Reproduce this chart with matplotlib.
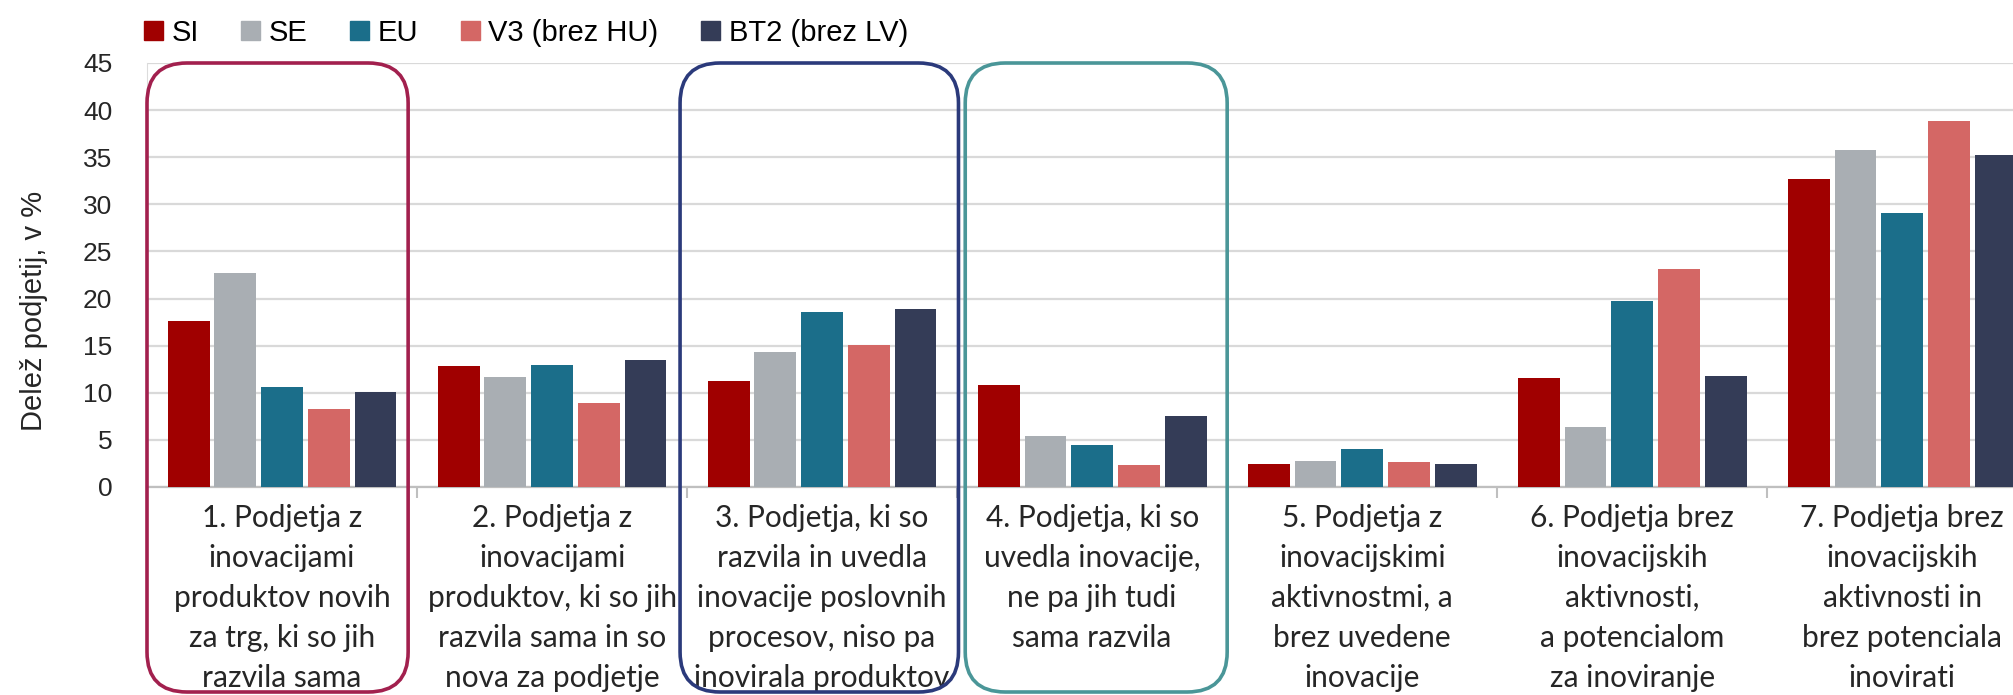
import numpy as np
import matplotlib
matplotlib.use('Agg')
import matplotlib.pyplot as plt
from matplotlib.patches import FancyBboxPatch, Patch
from matplotlib.transforms import IdentityTransform

plt.rcParams['font.family'] = ['Liberation Sans', 'DejaVu Sans']

# Data
categories = [
    '1. Podjetja z\ninovacijami\nproduktov novih\nza trg, ki so jih\nrazvila sama',
    '2. Podjetja z\ninovacijami\nproduktov, ki so jih\nrazvila sama in so\nnova za podjetje',
    '3. Podjetja, ki so\nrazvila in uvedla\ninovacije poslovnih\nprocesov, niso pa\ninovirala produktov',
    '4. Podjetja, ki so\nuvedla inovacije,\nne pa jih tudi\nsama razvila',
    '5. Podjetja z\ninovacijskimi\naktivnostmi, a\nbrez uvedene\ninovacije',
    '6. Podjetja brez\ninovacijskih\naktivnosti,\na potencialom\nza inoviranje',
    '7. Podjetja brez\ninovacijskih\naktivnosti in\nbrez potenciala\ninovirati',
]
series_names = ['SI', 'SE', 'EU', 'V3 (brez HU)', 'BT2 (brez LV)']
si = [17.6, 12.8, 11.3, 10.8, 2.4, 11.6, 32.7]
se = [22.7, 11.7, 14.3, 5.4, 2.8, 6.4, 35.8]
eu = [10.6, 13.0, 18.6, 4.5, 4.0, 19.7, 29.1]
v3 = [8.3, 8.9, 15.1, 2.3, 2.7, 23.1, 38.8]
bt2 = [10.1, 13.5, 18.9, 7.5, 2.4, 11.8, 35.2]
colors = ['#a00000', '#a9aeb3', '#1b6e8a', '#d46765', '#343c57']

# highlighted groups: (left edge, right edge in category units, colour)
boxes = [(-0.5, 0.467, '#a2204e'), (1.474, 2.505, '#2b3a7b'), (2.53, 3.50, '#4a9698')]

values = [si, se, eu, v3, bt2]
x = np.arange(len(categories))
pitch = 0.173
bw = 0.155

fig = plt.figure(figsize=(20.13, 6.95), dpi=100)
ax = fig.add_axes([147 / 2013, 208 / 695, 1866 / 2013, 424 / 695])

for i, (vals, c) in enumerate(zip(values, colors)):
    ax.bar(x + (i - 2) * pitch, vals, width=bw, color=c, zorder=3,
           label=series_names[i])

ax.set_xlim(-0.5, 6.41)
ax.set_ylim(0, 45)
ax.set_yticks(np.arange(0, 46, 5))
ax.grid(axis='y', color='#d9d9d9', lw=1.6, zorder=0)
ax.set_axisbelow(True)
for s in ['top', 'right']:
    ax.spines[s].set_visible(False)
ax.spines['left'].set_color('#dcdcdc')
ax.spines['bottom'].set_color('#bfbfbf')
ax.spines['bottom'].set_linewidth(1.6)

ax.tick_params(axis='y', length=0, pad=25, labelsize=19, labelcolor='#262626')
ax.set_xticks(x)
ax.set_xticklabels(categories, fontsize=21.5, family=['Lato', 'DejaVu Sans'],
                   color='#262626', linespacing=1.53, va='top')
ax.tick_params(axis='x', which='major', length=0, pad=12)
ax.set_xticks(np.arange(-0.5, 6.5, 1), minor=True)
ax.tick_params(axis='x', which='minor', length=8, color='#bfbfbf', width=1.5)

ax.set_ylabel('Delež podjetij, v %', fontsize=21, color='#262626')
ax.yaxis.set_label_coords(-0.053, 0.415)

handles = [Patch(color=c) for c in colors]
fig.legend(handles, series_names, loc='upper left', bbox_to_anchor=(144 / 2013, 1 - 19 / 695),
           ncol=5, frameon=False, fontsize=21, handlelength=0.65, handleheight=0.65,
           handletextpad=0.3, columnspacing=1.45, borderpad=0, borderaxespad=0)

# rounded boxes around highlighted groups (drawn in pixel coordinates)
fig.canvas.draw()
ytop = ax.transData.transform((0, 45))[1]
ybot = 3
for a, b, c in boxes:
    x0 = ax.transData.transform((a, 0))[0]
    x1 = ax.transData.transform((b, 0))[0]
    p = FancyBboxPatch((x0, ybot), x1 - x0, ytop - ybot,
                       boxstyle='round,pad=0,rounding_size=40',
                       transform=IdentityTransform(), fill=False,
                       ec=c, lw=2.6, zorder=5)
    fig.add_artist(p)

fig.savefig('out.png', dpi=100)
